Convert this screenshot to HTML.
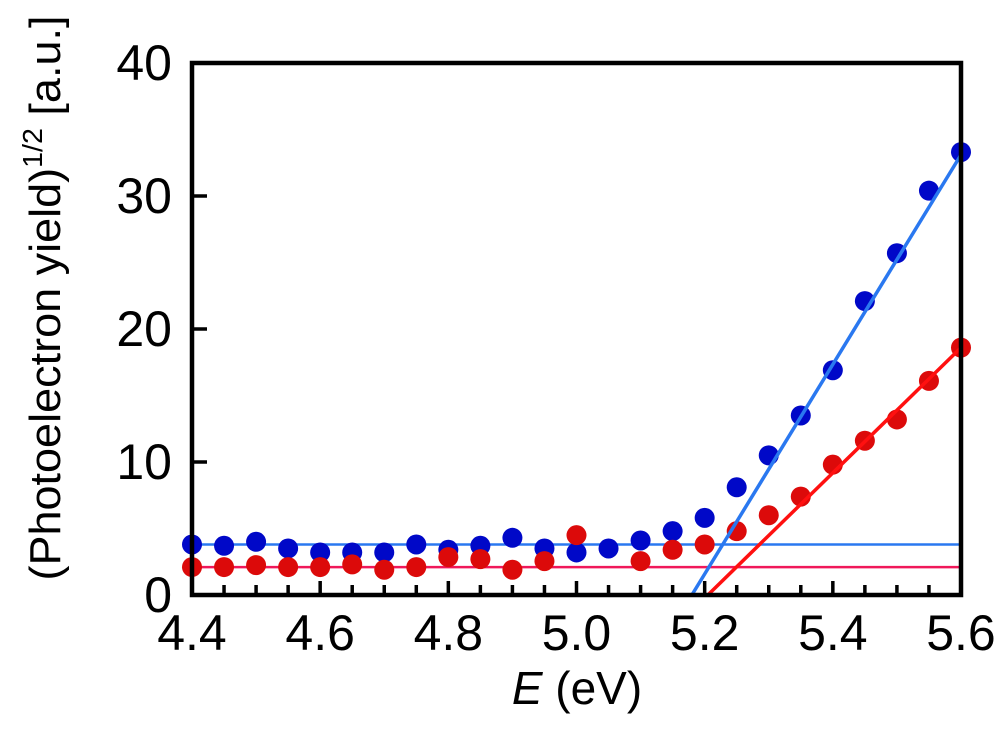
<!DOCTYPE html>
<html><head><meta charset="utf-8"><style>
body{margin:0;background:#fff}
svg{display:block;font-family:"Liberation Sans",Arial,sans-serif}
</style></head><body>
<svg id="chart" width="1000" height="730" viewBox="0 0 1000 730" xmlns="http://www.w3.org/2000/svg">
<g id="marks"></g>
<g id="axes"></g>
<text x="577" y="704" font-size="46" text-anchor="middle"><tspan font-style="italic">E</tspan> (eV)</text>
<text transform="translate(60,298) rotate(-90)" font-size="44" text-anchor="middle" textLength="565" lengthAdjust="spacingAndGlyphs">(Photoelectron yield)<tspan font-size="28" dy="-18">1/2</tspan><tspan dy="18">  [a.u.]</tspan></text>
</svg>
<script>
const energies=[4.40,4.45,4.50,4.55,4.60,4.65,4.70,4.75,4.80,4.85,4.90,4.95,5.00,5.05,5.10,5.15,5.20,5.25,5.30,5.35,5.40,5.45,5.50,5.55,5.60];
const blueValues=[3.8,3.7,4.0,3.5,3.2,3.2,3.2,3.8,3.4,3.7,4.3,3.5,3.2,3.5,4.1,4.8,5.8,8.1,10.5,13.5,16.9,22.1,25.7,30.4,33.3];
const redEnergies=[4.40,4.45,4.50,4.55,4.60,4.65,4.70,4.75,4.80,4.85,4.90,4.95,5.00,5.10,5.15,5.20,5.25,5.30,5.35,5.40,5.45,5.50,5.55,5.60];
const redValues=[2.1,2.1,2.25,2.1,2.1,2.3,1.9,2.1,2.85,2.7,1.9,2.55,4.5,2.55,3.4,3.8,4.8,6.0,7.4,9.8,11.6,13.2,16.1,18.6];
const blueBaseline=[3.8];
const redBaseline=[2.1];
const blueFit=[[5.18,0],[5.6,33.1]];
const redFit=[[5.205,0],[5.6,18.6]];
const xTicks=[4.4,4.6,4.8,5.0,5.2,5.4,5.6];
const xTickLabels=["4.4","4.6","4.8","5.0","5.2","5.4","5.6"];
const yTicks=[0,10,20,30,40];

const L=192,R=961,T=63,B=595,x0=4.4,x1=5.6,y0=0,y1=40;
const sx=v=>L+(v-x0)/(x1-x0)*(R-L);
const sy=v=>B-(v-y0)/(y1-y0)*(B-T);
const NS="http://www.w3.org/2000/svg";
function mk(tag,attrs,parent){const e=document.createElementNS(NS,tag);for(const k in attrs)e.setAttribute(k,attrs[k]);parent.appendChild(e);return e;}
const marks=document.getElementById('marks'),axes=document.getElementById('axes');

let l=mk('line',{x1:L,x2:R,y1:sy(blueBaseline[0]),y2:sy(blueBaseline[0]),stroke:'#2a78f0','stroke-width':2.5},marks);


l=mk('line',{x1:L,x2:R,y1:sy(redBaseline[0]),y2:sy(redBaseline[0]),stroke:'#f0185a','stroke-width':2.5},marks);



energies.forEach((e,i)=>{
  const c=mk('circle',{cx:sx(e),cy:sy(blueValues[i]),r:10,fill:'#0008c8'},marks);
  
  
});
redEnergies.forEach((e,i)=>{
  const c=mk('circle',{cx:sx(e),cy:sy(redValues[i]),r:10,fill:'#dc0a0a'},marks);
  
  
});
l=mk('line',{x1:sx(blueFit[0][0]),y1:sy(blueFit[0][1]),x2:sx(blueFit[1][0]),y2:sy(blueFit[1][1]),stroke:'#2a78f0','stroke-width':3.5},marks);


l=mk('line',{x1:sx(redFit[0][0]),y1:sy(redFit[0][1]),x2:sx(redFit[1][0]),y2:sy(redFit[1][1]),stroke:'#ff1010','stroke-width':3.5},marks);



const frame=mk('rect',{x:L,y:T,width:R-L,height:B-T,fill:'none',stroke:'#000','stroke-width':4.5},axes);


for(let v=4.45;v<5.6;v+=0.05){
  const isMajor=xTicks.some(t=>Math.abs(t-v)<1e-6);
  if(isMajor)continue;
  const t=mk('line',{x1:sx(v),x2:sx(v),y1:B,y2:B-10,stroke:'#000','stroke-width':3.5},axes);
  
  
}
xTicks.forEach((v,i)=>{
  const t=mk('line',{x1:sx(v),x2:sx(v),y1:B,y2:B-14,stroke:'#000','stroke-width':3.5},axes);
  
  
  const tx=mk('text',{x:sx(v),y:B+55,'font-size':50,'text-anchor':'middle'},axes);
  tx.textContent=xTickLabels[i];
  
  
});
yTicks.forEach(v=>{
  const t=mk('line',{x1:L,x2:L+15,y1:sy(v),y2:sy(v),stroke:'#000','stroke-width':3.5},axes);
  
  
  const tx=mk('text',{x:L-20,y:sy(v)+17,'font-size':50,'text-anchor':'end'},axes);
  tx.textContent=String(v);
  
  
});
</script>
</body></html>
